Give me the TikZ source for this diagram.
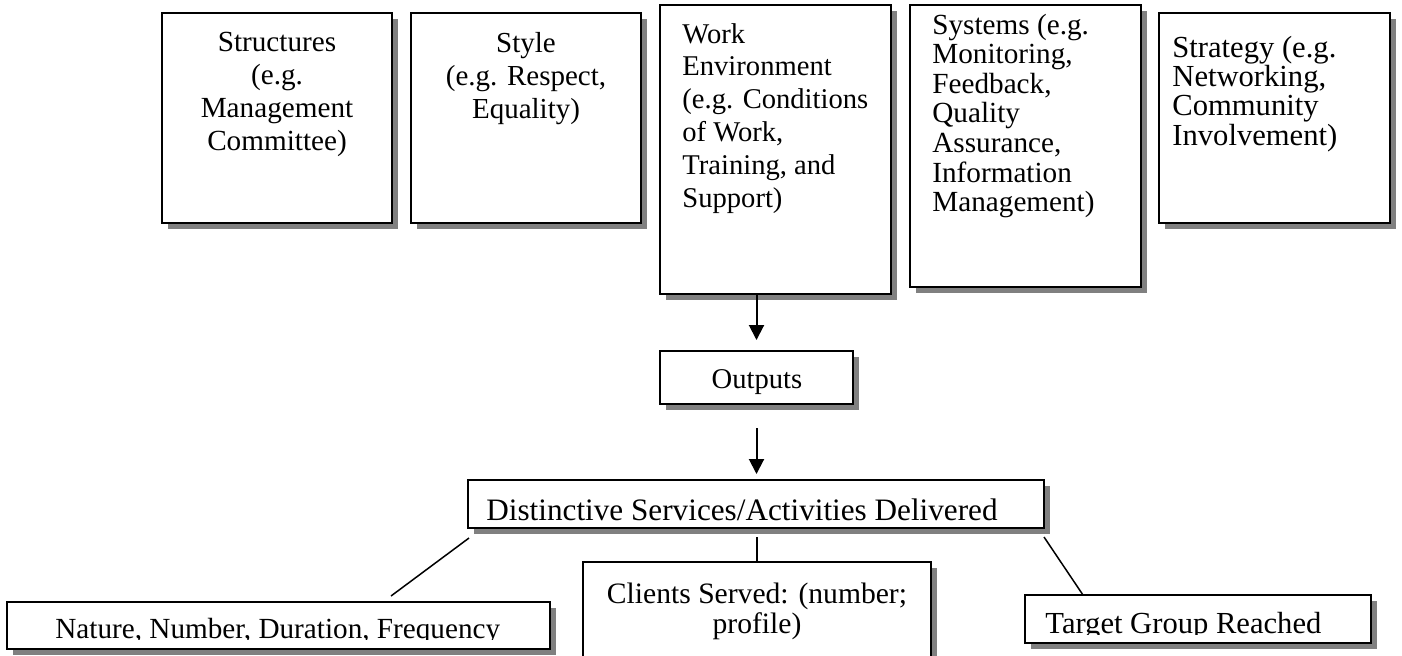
\documentclass[tikz,border=0pt]{standalone}
\usepackage{fontspec}
\setmainfont{Liberation Serif}
\usetikzlibrary{fit,shadows,arrows.meta}
\begin{document}
\begin{tikzpicture}[x=0.5pt,y=-0.5pt,
  box/.style={draw=black, line width=1pt, fill=white, inner sep=0pt,
    drop shadow={shadow xshift=3pt, shadow yshift=-3pt, fill=black!50, opacity=1}},
  txt/.style={inner sep=0pt, font=\fontsize{14.3}{16.4}\selectfont},
  arr/.style={line width=1pt, -{Triangle[length=7.5pt,width=7.5pt]}},
  conn/.style={line width=0.75pt}
]
\useasboundingbox (0,0) rectangle (1402,655);
\fill[white] (0,0) rectangle (1402,655);

% top boxes
\node[box, fit={(162,13) (392,223)}] (st) {};
\node[box, fit={(411,13) (641,223)}] (sy) {};
\node[box, fit={(660,5) (891,294)}] (we) {};
\node[box, fit={(910,5) (1141,287)}] (sm) {};
\node[box, fit={(1159,13) (1390,223)}] (sg) {};

\node[txt, font=\fontsize{14.6}{16.5}\selectfont, anchor=base] (stt) at (277,51) {\begin{tabular}[t]{@{}c@{}}Structures\\(e.g.\\Management\\Committee)\end{tabular}};
\node[txt, font=\fontsize{14.5}{16.5}\selectfont, anchor=base] (syt) at (526,52) {\begin{tabular}[t]{@{}c@{}}Style\\(e.g. Respect,\\Equality)\end{tabular}};
\node[txt, anchor=base west] (wet) at (682,43) {\begin{tabular}[t]{@{}l@{}}Work\\Environment\\(e.g. Conditions\\of Work,\\Training, and\\Support)\end{tabular}};
\node[txt, font=\fontsize{14.6}{14.8}\selectfont, anchor=base west] (smt) at (932,34) {\begin{tabular}[t]{@{}l@{}}Systems (e.g.\\Monitoring,\\Feedback,\\Quality\\Assurance,\\Information\\Management)\end{tabular}};
\node[txt, font=\fontsize{15.3}{14.5}\selectfont, anchor=base west] (sgt) at (1172,57) {\begin{tabular}[t]{@{}l@{}}Strategy (e.g.\\Networking,\\Community\\Involvement)\end{tabular}};

% outputs
\node[box, fit={(660,351) (853,404)}] (out) {};
\node[txt, anchor=base] (outt) at (757,388) {Outputs};

% distinctive
\node[box, fit={(468,480) (1044,528)}] (dist) {};
\node[txt, font=\fontsize{15.6}{17}\selectfont, anchor=base] (distt) at (742,520) {Distinctive Services/Activities Delivered};

% bottom boxes
\node[box, fit={(7,602) (550,649)}] (nat) {};
\node[box, fit={(583,562) (931,720)}] (cli) {};
\node[box, fit={(1025,595) (1371,643)}] (tar) {};

\begin{scope}
\clip (0,0) rectangle (1402,639);
\node[txt, font=\fontsize{14.6}{16.5}\selectfont, anchor=base west] (natt) at (55,638) {Nature, Number, Duration, Frequency};
\end{scope}
\node[txt, font=\fontsize{14.8}{15}\selectfont, anchor=base] (clit) at (757,603) {\begin{tabular}[t]{@{}c@{}}Clients Served: (number;\\profile)\end{tabular}};
\begin{scope}
\clip (0,0) rectangle (1402,634);
\node[txt, font=\fontsize{15.3}{16.5}\selectfont, anchor=base west] (tart) at (1045,633) {Target Group Reached};
\end{scope}

% connectors
\draw[arr, shorten >=5pt] (out.north |- we.south) -- (out.north);
\draw[arr, shorten <=11.5pt, shorten >=2.5pt] (out.south) -- (out.south |- dist.north);

\coordinate (l1a) at (469,538);
\coordinate (l1b) at (391,596);
\coordinate (l2a) at (757,537);
\coordinate (l3a) at (1044,537);
\coordinate (l3b) at (1083,595);
\draw[conn] (l1a) -- (l1b);
\draw[conn] (l2a) -- (l2a |- cli.north);
\draw[conn] (l3a) -- (l3b);
\end{tikzpicture}
\end{document}
